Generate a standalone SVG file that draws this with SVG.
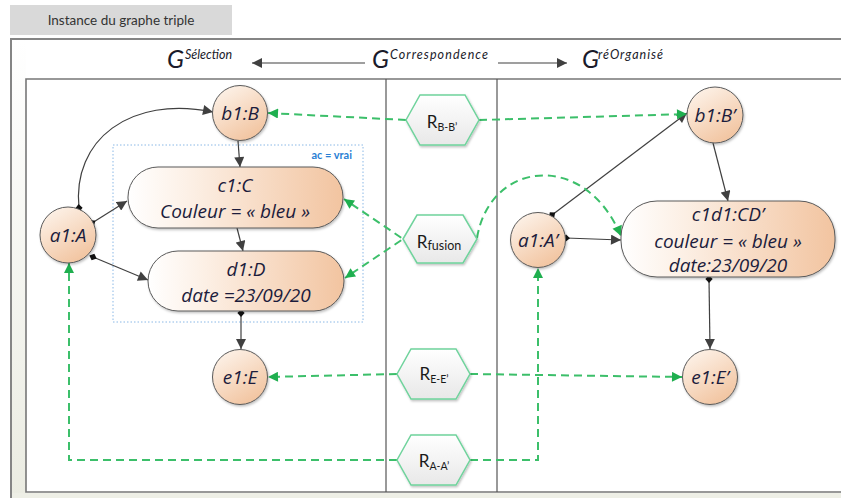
<svg xmlns="http://www.w3.org/2000/svg" width="841" height="498" viewBox="0 0 841 498">
<style>
.frame{fill:none;stroke:#858585;stroke-width:2}
.inner{fill:none;stroke:#777;stroke-width:1.6}
.div{stroke:#555;stroke-width:1.2}
.node{stroke:#5a5a5a;stroke-width:1;filter:url(#sh)}
.lbl{font-family:"Open Sans",Lato,"Liberation Sans",sans-serif;font-style:italic;font-size:19px;fill:#1c1c3c;text-anchor:middle}
.blk{fill:none;stroke:#404040;stroke-width:1.2;marker-end:url(#ah);marker-start:url(#dm)}
.blk2{fill:none;stroke:#404040;stroke-width:1.2;marker-end:url(#ah)}
.grn{fill:none;stroke:#3cbf6a;stroke-width:2;stroke-dasharray:8 5;marker-end:url(#ga)}
.hex{fill:url(#hg);stroke:#6fd39c;stroke-width:1.5;filter:url(#sh)}
.hl{font-family:Lato,"Liberation Sans",sans-serif;font-size:17px;fill:#1a1a1a;text-anchor:middle}
.hs{font-size:10.5px}
.G{font-family:Lato,"Liberation Sans",sans-serif;font-style:italic;font-size:25px;fill:#1a1a2a}
.sup{font-family:Lato,"Liberation Sans",sans-serif;font-style:italic;font-size:12.5px;fill:#1a1a2a}
</style>
<defs>
<linearGradient id="cg" x1="0.2" y1="0" x2="0.8" y2="1"><stop offset="0" stop-color="#fdf3ea"/><stop offset="1" stop-color="#f1c19b"/></linearGradient>
<linearGradient id="rg" x1="0" y1="0" x2="1" y2="0"><stop offset="0" stop-color="#ffffff"/><stop offset="0.3" stop-color="#fcefe4"/><stop offset="1" stop-color="#f2c4a0"/></linearGradient>
<linearGradient id="hg" x1="0" y1="0" x2="0" y2="1"><stop offset="0" stop-color="#ffffff"/><stop offset="1" stop-color="#e8e8e8"/></linearGradient>
<linearGradient id="strip" x1="0" y1="0" x2="0" y2="1"><stop offset="0" stop-color="#ffffff"/><stop offset="1" stop-color="#ebece2"/></linearGradient>
<filter id="sh" x="-20%" y="-20%" width="140%" height="140%"><feDropShadow dx="1" dy="1.5" stdDeviation="1.2" flood-color="#000" flood-opacity="0.25"/></filter>
<marker id="ah" viewBox="0 0 10 10" refX="10" refY="5" markerWidth="11" markerHeight="10" markerUnits="userSpaceOnUse" orient="auto"><path d="M0,0 L10,5 L0,10 z" fill="#404040"/></marker>
<marker id="dm" viewBox="0 0 10 10" refX="5" refY="5" markerWidth="9" markerHeight="8" markerUnits="userSpaceOnUse" orient="auto"><path d="M0,5 L5,0.5 L10,5 L5,9.5 z" fill="#111"/></marker>
<marker id="ga" viewBox="0 0 10 10" refX="10" refY="5" markerWidth="11" markerHeight="10" markerUnits="userSpaceOnUse" orient="auto"><path d="M0,0 L10,5 L0,10 z" fill="#1faf4f"/></marker>
</defs>

<rect width="841" height="498" fill="#ffffff"/>
<g id="title">
<rect x="10" y="5" width="222" height="30" fill="#d9d9d9"/>
<text x="121" y="25" font-family="Lato,'Liberation Sans',sans-serif" font-size="13.5" fill="#333" text-anchor="middle">Instance du graphe triple</text>
</g>

<g id="frames">
<rect x="12" y="40" width="14" height="458" fill="url(#strip)"/>
<rect x="12" y="493" width="829" height="5" fill="#eeefe6"/>
<path class="frame" d="M11,498 L11,39 L841,39"/>
<rect x="26" y="79" width="820" height="413" fill="#ffffff" stroke="none"/>
<path class="inner" d="M841,79 L26,79 L26,492 L841,492"/>
<line class="div" x1="386" y1="79" x2="386" y2="492"/>
<line class="div" x1="497" y1="79" x2="497" y2="492"/>
</g>

<g id="headers">
<text class="G" x="167" y="68">G</text>
<text class="sup" x="185" y="59">Sélection</text>
<text class="G" x="372" y="68">G</text>
<text class="sup" x="390" y="59" textLength="98">Correspondence</text>
<text class="G" x="582" y="68">G</text>
<text class="sup" x="598" y="59" textLength="65">réOrganisé</text>
<line x1="365" y1="63" x2="252" y2="63" stroke="#404040" stroke-width="1.2" marker-end="url(#ah)"/>
<line x1="498" y1="63" x2="567" y2="63" stroke="#404040" stroke-width="1.2" marker-end="url(#ah)"/>
</g>

<g id="group-ac">
<rect x="113" y="145" width="250" height="177" fill="none" stroke="#8ab8e6" stroke-width="1" stroke-dasharray="1.5 2"/>
<text x="352" y="159" font-family="Lato,'Liberation Sans',sans-serif" font-size="11" font-weight="bold" fill="#2a7fd4" text-anchor="end">ac = vrai</text>
</g>

<g id="connectors">
<path class="blk" d="M79,208 C72,140 130,95 213,112"/>
<path class="blk" d="M92,223 L127,201"/>
<path class="blk" d="M93,257 L148,280"/>
<path class="blk2" d="M238,141 L240,167"/>
<path class="blk2" d="M237,228 L243,251"/>
<path class="blk" d="M241,313 L241,349"/>
<path class="blk" d="M552,215 L687,113"/>
<path class="blk" d="M566,238 L621,240"/>
<path class="blk2" d="M713,143 L728,201"/>
<path class="blk" d="M709,279 L710,349"/>

<path class="grn" d="M406,120 L268,113"/>
<path class="grn" d="M479,120 L687,114"/>
<path class="grn" d="M412,245 L344,199"/>
<path class="grn" d="M412,233 L345,278"/>
<path class="grn" d="M477,238 C490,160 585,150 621,236"/>
<path class="grn" d="M397,374 L268,377"/>
<path class="grn" d="M470,374 L682,377"/>
<path class="grn" d="M397,460 L69,460 L69,263"/>
<path class="grn" d="M470,460 L538,460 L538,268"/>
</g>

<g id="b1B"><circle class="node" cx="240" cy="113" r="27.5" fill="url(#cg)"/><text class="lbl" x="240" y="120">b1:B</text></g>
<g id="a1A"><circle class="node" cx="68" cy="235" r="28" fill="url(#cg)"/><text class="lbl" x="68" y="242">a1:A</text></g>
<g id="c1C"><rect class="node" x="128" y="167" width="215" height="61" rx="30" fill="url(#rg)"/><text class="lbl" x="235" y="192">c1:C</text><text class="lbl" x="235" y="218">Couleur = « bleu »</text></g>
<g id="d1D"><rect class="node" x="148" y="251" width="196" height="60" rx="30" fill="url(#rg)"/><text class="lbl" x="246" y="276">d1:D</text><text class="lbl" x="246" y="302">date =23/09/20</text></g>
<g id="e1E"><circle class="node" cx="240" cy="377" r="27.5" fill="url(#cg)"/><text class="lbl" x="240" y="384">e1:E</text></g>

<g id="b1Bp"><circle class="node" cx="715" cy="115" r="28" fill="url(#cg)"/><text class="lbl" x="715" y="122">b1:B’</text></g>
<g id="a1Ap"><circle class="node" cx="538" cy="240" r="27.5" fill="url(#cg)"/><text class="lbl" x="538" y="247">a1:A’</text></g>
<g id="c1d1CDp"><rect class="node" x="621" y="201" width="214" height="76" rx="36" fill="url(#rg)"/><text class="lbl" x="728" y="221">c1d1:CD’</text><text class="lbl" x="728" y="248">couleur = « bleu »</text><text class="lbl" x="728" y="272">date:23/09/20</text></g>
<g id="e1Ep"><circle class="node" cx="710" cy="377" r="27.5" fill="url(#cg)"/><text class="lbl" x="710" y="384">e1:E’</text></g>

<g id="RBB"><polygon class="hex" points="406,120 420,95 465,95 479,120 465,145 420,145"/><text class="hl" x="442" y="128">R<tspan class="hs" dy="3">B-B’</tspan></text></g>
<g id="Rfusion"><polygon class="hex" points="403,239 417,215 463,215 477,239 463,263 417,263"/><text class="hl" x="439" y="248">R<tspan font-size="12.5" dy="2">fusion</tspan></text></g>
<g id="REE"><polygon class="hex" points="397,374 411,349 456,349 470,374 456,399 411,399"/><text class="hl" x="434" y="380">R<tspan class="hs" dy="3">E-E’</tspan></text></g>
<g id="RAA"><polygon class="hex" points="397,460 411,435 456,435 470,460 456,485 411,485"/><text class="hl" x="434" y="467">R<tspan class="hs" dy="3">A-A’</tspan></text></g>
</svg>
